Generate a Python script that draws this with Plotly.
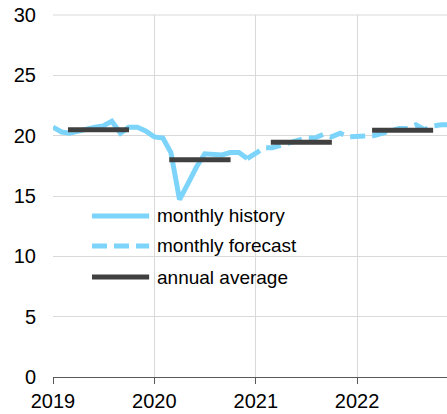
import plotly.graph_objects as go
import pandas as pd

# monthly history, Jan 2019 - Dec 2020
history_values = [20.7, 20.3, 20.2, 20.4, 20.5, 20.7, 20.8, 21.2, 20.2, 20.7, 20.7, 20.4,
                  19.9, 19.8, 18.6, 14.7, 16.0, 17.4, 18.5, 18.5, 18.4, 18.6, 18.6, 18.1]
# monthly forecast, Dec 2020 - Dec 2022
forecast_values = [18.1,
                   18.6, 19.0, 19.0, 19.2, 19.3, 19.6, 19.8, 19.8, 20.1, 19.9, 20.2, 19.9,
                   19.9, 20.0, 20.0, 20.2, 20.4, 20.6, 20.6, 20.9, 20.5, 20.8, 20.9, 20.9]
annual_years = [2019, 2020, 2021, 2022]
annual_values = [20.5, 18.0, 19.45, 20.45]

legend_labels = ['monthly history', 'monthly forecast', 'annual average']

history_dates = pd.date_range('2019-01-01', periods=len(history_values), freq='MS')
forecast_dates = pd.date_range('2020-12-01', periods=len(forecast_values), freq='MS')

blue = 'rgb(125, 212, 250)'
dark = 'rgb(64, 64, 64)'
font = 'Liberation Sans, Arial, sans-serif'

fig = go.Figure()
fig.add_trace(go.Scatter(x=history_dates, y=history_values, mode='lines',
                         line=dict(color=blue, width=5), showlegend=False))
fig.add_trace(go.Scatter(x=forecast_dates, y=forecast_values, mode='lines',
                         line=dict(color=blue, width=5, dash='15px,7px'), showlegend=False))
for yr, val in zip(annual_years, annual_values):
    fig.add_trace(go.Scatter(x=[f'{yr}-02-24', f'{yr}-10-02'], y=[val, val], mode='lines',
                             line=dict(color=dark, width=5), showlegend=False))

# hand-drawn legend (long line samples like the original)
legend_y = [0.445, 0.362, 0.276]
legend_dash = ['solid', '15px,7px', 'solid']
legend_color = [blue, blue, dark]
for lab, ly, dsh, col in zip(legend_labels, legend_y, legend_dash, legend_color):
    fig.add_shape(type='line', xref='paper', yref='paper', x0=0.099, x1=0.244, y0=ly, y1=ly,
                  line=dict(color=col, width=5, dash=dsh))
    fig.add_annotation(text=lab, xref='paper', yref='paper', x=0.259, y=ly,
                       xanchor='left', yanchor='middle', showarrow=False,
                       font=dict(family=font, size=19, color='black'))

fig.update_xaxes(range=['2019-01-01', '2022-11-21'], tickvals=['2019-01-01', '2020-01-01', '2021-01-01', '2022-01-01'],
                 ticktext=['2019', '2020', '2021', '2022'], showgrid=True, gridcolor='#d9d9d9', gridwidth=1,
                 showline=True, linecolor='#595959', linewidth=1, ticks='outside', ticklen=6,
                 tickcolor='#595959', tickfont=dict(family=font, size=20, color='black'), zeroline=False,
                 automargin=False)
fig.update_yaxes(range=[0, 30], dtick=5, showgrid=True, gridcolor='#d9d9d9', gridwidth=1,
                 zeroline=False, showline=False, ticklabelstandoff=16, automargin=False,
                 tickfont=dict(family=font, size=20, color='black'))
fig.add_shape(type='line', xref='paper', yref='paper', x0=0, x1=1, y0=1, y1=1,
              line=dict(color='#d9d9d9', width=1))
fig.update_layout(width=447, height=414, margin=dict(l=53, r=0, t=15, b=37),
                  plot_bgcolor='white', paper_bgcolor='white')
# drop the page's default body margin so the figure sits at the window's corner
fig.write_html('out.html', config={'displayModeBar': False},
               post_script="document.body.style.margin='0';")
